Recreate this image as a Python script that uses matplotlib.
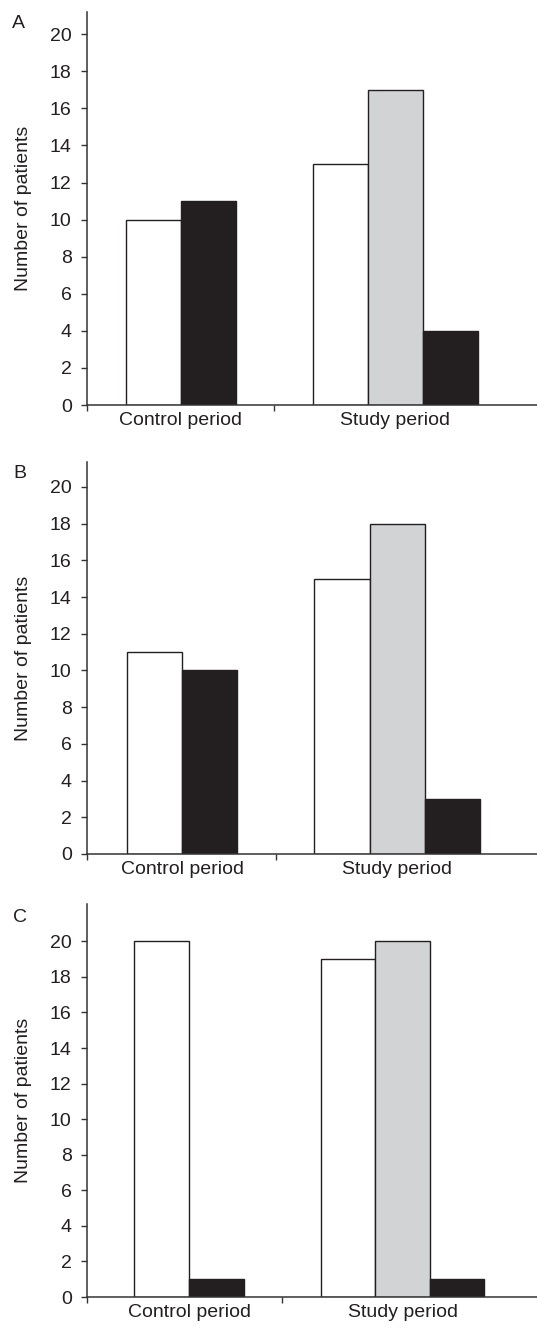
import matplotlib
matplotlib.use("Agg")
import matplotlib.pyplot as plt
import numpy as np

plt.rcParams['font.family'] = ['Liberation Sans', 'DejaVu Sans']

categories = ["Control period", "Study period"]
panel_labels = ["A", "B", "C"]
yticks = [0, 2, 4, 6, 8, 10, 12, 14, 16, 18, 20]

# series per panel: white, gray, black (gray absent in control period)
white_vals = [[10, 13], [11, 15], [20, 19]]
gray_vals = [[None, 17], [None, 18], [None, 20]]
black_vals = [[11, 4], [10, 3], [1, 1]]

W, H = 537, 1329
fig = plt.figure(figsize=(W / 100, H / 100), dpi=100)

# pixel geometry per panel: (y0 pixel, top pixel, ylim top, xlim left, xlim right)
geom = [
    (405, 12, 21.2, -0.438, 1.66),
    (854, 462, 21.36, -0.442, 1.651),
    (1297, 904, 22.1, -0.478, 1.63),
]
letter_pos = [(18, 24), (20, 473), (20, 917)]

edge = "#231f20"
c_white = "#ffffff"
c_gray = "#d1d3d4"
c_black = "#231f20"
bw = 0.256
fs = 14

for i in range(3):
    y0, ytop, ymax, xl, xr = geom[i]
    ax = fig.add_axes([87 / W, 1 - y0 / H, (W - 87) / W, (y0 - ytop) / H])
    ax.set_xlim(xl, xr)
    ax.set_ylim(0, ymax)
    x = np.arange(len(categories))
    for j in range(len(categories)):
        if gray_vals[i][j] is None:
            offs = [-0.5, None, 0.5]
        else:
            offs = [-1, 0, 1]
        ax.bar(x[j] + offs[0] * bw, white_vals[i][j], width=bw, color=c_white,
               edgecolor=edge, linewidth=1.0, zorder=2)
        if offs[1] is not None:
            ax.bar(x[j] + offs[1] * bw, gray_vals[i][j], width=bw, color=c_gray,
                   edgecolor=edge, linewidth=1.0, zorder=2)
        ax.bar(x[j] + offs[2] * bw, black_vals[i][j], width=bw, color=c_black,
               edgecolor=edge, linewidth=1.0, zorder=2)
    for s in ["top", "right"]:
        ax.spines[s].set_visible(False)
    for s in ["left", "bottom"]:
        ax.spines[s].set_color("#333333")
        ax.spines[s].set_linewidth(1.1)
    ax.set_yticks(yticks)
    ax.tick_params(axis="y", direction="out", length=4, width=1, color="#333333",
                   labelsize=fs, pad=7, labelcolor="#231f20")
    ax.set_xticks(x)
    ax.set_xticklabels(categories)
    ax.tick_params(axis="x", which="major", length=0, labelsize=fs, pad=5,
                   labelcolor="#231f20")
    ax.set_xticks([xl, 0.435], minor=True)
    ax.tick_params(axis="x", which="minor", direction="out", length=4, width=1,
                   color="#333333")
    fig.text(23 / W, 1 - (y0 + ytop) / 2 / H, "Number of patients", fontsize=fs,
             rotation=90, ha="center", va="center", color="#231f20")
    lx, ly = letter_pos[i]
    fig.text(lx / W, 1 - ly / H, panel_labels[i], fontsize=fs, ha="center",
             va="center", color="#231f20")

fig.savefig("out.png", dpi=100)
